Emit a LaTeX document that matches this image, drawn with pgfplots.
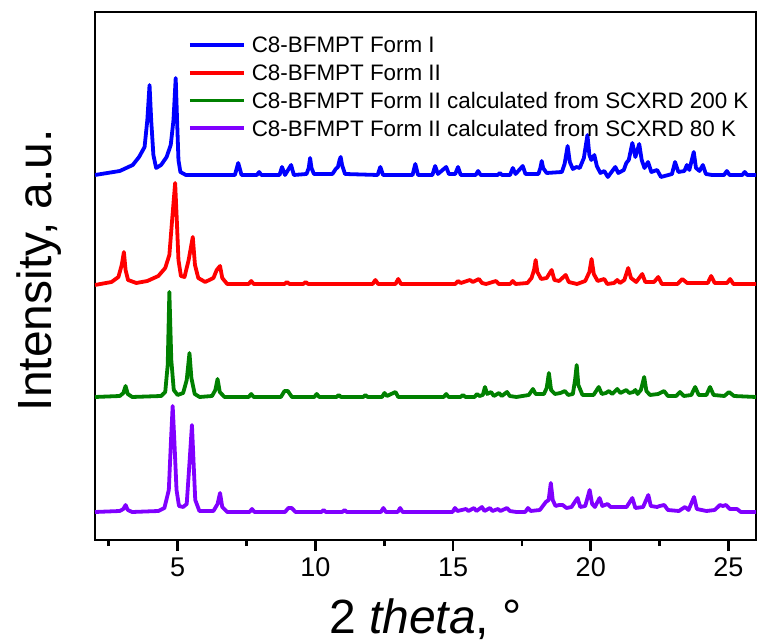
\documentclass[border=0pt]{standalone}
\usepackage{fontspec}
\setmainfont{Liberation Sans}
\usepackage{pgfplots}
\pgfplotsset{compat=1.18}

\definecolor{cBlue}{RGB}{0,0,255}
\definecolor{cRed}{RGB}{255,0,0}
\definecolor{cGreen}{RGB}{0,128,0}
\definecolor{cPurple}{RGB}{128,0,255}

\begin{document}
\begin{tikzpicture}
\useasboundingbox (-47.5pt,-50.5pt) rectangle (331.5pt,270pt);
\begin{axis}[
    scale only axis,
    width=330.5pt, height=264pt,
    xmin=2, xmax=26, ymin=0, ymax=528,
    xtick={5,10,15,20,25},
    minor xtick={2.5,7.5,12.5,17.5,22.5},
    ytick=\empty,
    xtick pos=bottom,
    xtick align=outside,
    major tick length=5.5pt,
    minor tick length=3pt,
    xtick style={draw=black, line width=1.4pt},
    axis line style={line width=1.4pt},
    /pgf/number format/assume math mode=true,
    ticklabel style={font=\fontsize{13.5}{16}\selectfont},
    xlabel={2 \textit{theta}, °},
    ylabel={Intensity, a.u.},
    xlabel style={font=\fontsize{24}{28}\selectfont, at={(axis description cs:0.5,0)}, anchor=base, yshift=-46.5pt},
    ylabel style={font=\fontsize{24}{28}\selectfont, at={(axis description cs:-0.0651,0.511)}, anchor=base, rotate=0},
    no markers,
    every axis plot/.append style={line width=1.9pt, line join=round},
    legend cell align=left,
    legend image code/.code={\draw[#1] (0pt,0pt) -- (27pt,0pt);},
    legend style={draw=none, fill=none, inner sep=0pt, outer sep=0pt,
        at={(axis description cs:0.1407,0.9637)}, anchor=north west,
        font=\fontsize{11.2}{13}\selectfont, row sep=0pt, column sep=3pt,
        nodes={inner sep=0pt, text height=10.9pt, text depth=2.95pt}},
]
\addplot[cBlue] coordinates {
(2.00,365) (2.90,369) (3.37,375) (3.60,383) (3.80,393) (3.90,420) (3.98,455) (4.04,420) (4.12,385) (4.22,372) (4.40,375) (4.60,383) (4.75,395) (4.85,420) (4.93,462) (4.98,420) (5.03,380) (5.10,368) (5.30,365)
(7.08,365) (7.20,377) (7.32,365)
(7.88,365) (7.96,368) (8.04,365)
(8.70,365) (8.79,373) (8.90,365) (9.12,375) (9.22,365)
(9.68,366) (9.76,372) (9.81,382) (9.86,372) (9.95,366)
(10.62,366) (10.74,371) (10.82,373) (10.88,380) (10.92,383) (10.97,375) (11.08,366)
(12.26,365) (12.36,373) (12.46,365)
(13.53,365) (13.63,376) (13.73,365)
(14.25,365) (14.35,374) (14.45,366) (14.75,373) (14.85,366) (15.08,366) (15.18,373) (15.28,365)
(15.82,365) (15.91,369) (16.00,365)
(16.62,365) (16.70,367) (16.78,365)
(17.07,365) (17.17,372) (17.27,366) (17.53,374) (17.63,366)
(18.10,366) (18.17,372) (18.22,379) (18.27,372) (18.40,367)
(18.95,368) (19.05,376) (19.16,394) (19.24,378) (19.35,371) (19.48,373) (19.60,372) (19.75,382) (19.88,405) (19.95,385) (20.02,380) (20.13,385) (20.22,374) (20.35,367) (20.49,369) (20.62,363) (20.89,373) (21.00,367)
(21.20,370) (21.29,377) (21.38,380) (21.51,397) (21.62,383) (21.76,396) (21.85,380) (21.95,372) (22.08,378) (22.20,368) (22.41,370) (22.55,363)
(22.95,366) (23.06,378) (23.18,368) (23.40,369) (23.49,375) (23.58,370) (23.74,388) (23.82,372) (23.95,369) (24.07,375) (24.18,366) (24.40,365)
(24.84,365) (24.94,369) (25.04,365) (25.50,365) (25.59,368) (25.68,365) (26.00,365)
};
\addlegendentry{C8-BFMPT Form I}
\addplot[cRed] coordinates {
(2.00,255) (2.60,258) (2.85,263) (2.97,275) (3.05,288) (3.11,270) (3.20,260) (3.50,257) (3.90,259) (4.30,264) (4.55,272) (4.70,285) (4.80,320) (4.91,357) (4.97,320) (5.03,280) (5.12,264) (5.25,263) (5.40,280) (5.55,303) (5.63,275) (5.75,262) (6.00,258) (6.30,262) (6.42,270) (6.54,274) (6.62,262) (6.80,256)
(7.58,256) (7.67,259) (7.76,256)
(8.88,256) (8.97,258) (9.06,256) (9.56,256) (9.65,258) (9.74,256)
(12.08,256) (12.18,260) (12.28,256) (12.91,256) (13.01,261) (13.11,256)
(15.08,256) (15.18,259) (15.28,257) (15.61,260) (15.72,258) (15.94,261) (16.05,257) (16.20,256) (16.56,259) (16.66,256) (17.07,256) (17.17,259) (17.27,256)
(17.70,257) (17.85,262) (17.94,270) (18.00,280) (18.06,268) (18.20,261) (18.40,262) (18.58,270) (18.68,260) (18.85,259) (19.09,265) (19.20,258) (19.50,256)
(19.80,259) (19.95,268) (20.03,281) (20.11,266) (20.25,259) (20.49,261) (20.60,256) (20.85,257) (20.96,260) (21.06,257) (21.22,260) (21.36,272) (21.46,262) (21.65,258) (21.87,266) (21.98,258) (22.30,258) (22.45,263) (22.58,256)
(23.15,256) (23.32,261) (23.50,257) (24.25,257) (24.37,264) (24.50,257) (24.95,257) (25.06,261) (25.18,256) (26.00,256)
};
\addlegendentry{C8-BFMPT Form II}
\addplot[cGreen] coordinates {
(2.00,143) (2.90,144) (3.03,147) (3.11,154) (3.19,146) (3.35,143) (4.40,144) (4.55,148) (4.64,175) (4.70,248) (4.77,180) (4.86,150) (5.00,145) (5.20,147) (5.33,160) (5.43,187) (5.50,162) (5.62,146) (5.80,143) (6.25,144) (6.37,150) (6.45,161) (6.53,148) (6.70,143)
(7.58,143) (7.67,146) (7.76,143)
(8.75,143) (8.88,149) (9.00,149) (9.15,143)
(9.96,143) (10.05,146) (10.14,143) (10.77,143) (10.85,145) (10.93,143) (11.74,143) (11.82,145) (11.90,143)
(12.42,143) (12.51,147) (12.60,144) (12.91,148) (13.01,143)
(14.66,143) (14.75,146) (14.84,143) (15.27,143) (15.36,145) (15.45,143) (15.78,143) (15.87,146) (15.96,144) (16.08,145) (16.16,153) (16.24,146) (16.38,148) (16.48,144) (16.67,147) (16.77,144) (16.96,148) (17.06,144) (17.30,143)
(17.75,145) (17.90,151) (18.00,146) (18.30,146) (18.40,152) (18.48,167) (18.56,150) (18.70,146) (18.90,147) (19.06,149) (19.18,145) (19.35,146) (19.43,160) (19.49,175) (19.55,155) (19.70,145) (20.10,145) (20.29,153) (20.40,146) (20.55,147) (20.66,149) (20.78,146) (20.96,151) (21.08,147) (21.29,150) (21.40,147) (21.55,148) (21.62,150) (21.70,146) (21.82,150) (21.94,163) (22.02,149) (22.15,145) (22.45,146) (22.66,149) (22.80,144) (23.10,144) (23.24,148) (23.38,144) (23.65,145) (23.79,153) (23.92,145) (24.20,145) (24.33,153) (24.46,145) (24.85,144) (25.02,148) (25.20,144) (26.00,143)
};
\addlegendentry{C8-BFMPT Form II calculated from SCXRD 200 K}
\addplot[cPurple] coordinates {
(2.00,28) (2.90,29) (3.03,31) (3.11,35) (3.19,30) (3.35,28) (4.30,29) (4.52,32) (4.68,50) (4.76,100) (4.82,134) (4.88,100) (4.96,50) (5.05,34) (5.20,33) (5.33,36) (5.43,77) (5.52,115) (5.58,77) (5.64,40) (5.79,29) (6.30,29) (6.45,36) (6.54,47) (6.62,33) (6.80,28)
(7.61,28) (7.70,31) (7.79,28) (8.90,28) (9.02,32) (9.14,32) (9.28,28) (10.22,28) (10.30,30) (10.38,28) (10.98,28) (11.06,30) (11.14,28)
(12.38,28) (12.47,32) (12.56,28) (12.99,28) (13.08,32) (13.17,28)
(14.98,28) (15.07,32) (15.16,29) (15.47,31) (15.56,29) (15.76,32) (15.85,29) (16.05,33) (16.14,29) (16.34,32) (16.43,29) (16.63,31) (16.72,29) (16.96,32) (17.06,29) (17.30,28)
(17.62,28) (17.72,32) (17.82,29) (18.15,30) (18.37,38) (18.47,40) (18.55,57) (18.62,40) (18.72,34) (18.85,35) (18.98,35) (19.12,32) (19.30,33) (19.52,42) (19.62,33) (19.80,34) (19.96,50) (20.05,36) (20.15,33) (20.32,42) (20.42,34) (20.61,36) (20.72,33) (20.95,33) (21.30,33) (21.51,42) (21.62,32) (21.90,33) (22.09,45) (22.18,34) (22.41,33) (22.50,34) (22.67,35) (22.80,30) (23.20,29) (23.42,33) (23.55,30) (23.75,43) (23.85,31) (24.20,29) (24.50,30) (24.69,35) (24.80,34) (24.91,35) (25.05,31) (25.31,31) (25.45,28) (26.00,28)
};
\addlegendentry{C8-BFMPT Form II calculated from SCXRD 80 K}
\end{axis}
\end{tikzpicture}
\end{document}
